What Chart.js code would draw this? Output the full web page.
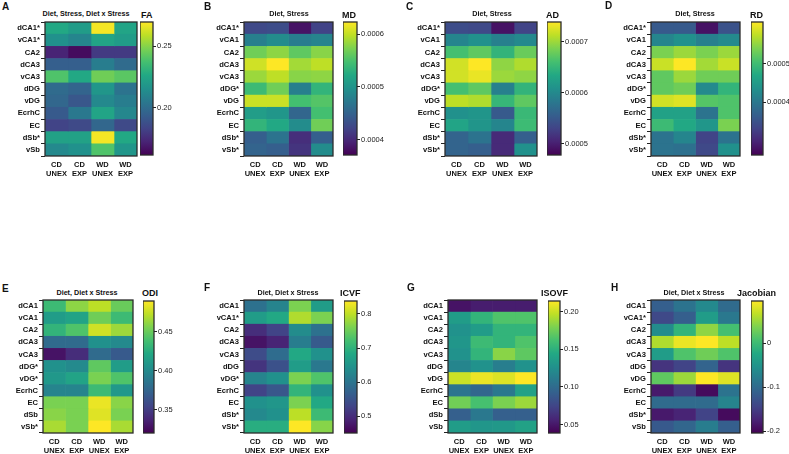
<!DOCTYPE html>
<html><head><meta charset="utf-8">
<script src="https://cdn.jsdelivr.net/npm/chart.js@4.4.1/dist/chart.umd.min.js"></script>
<style>
html,body{margin:0;padding:0;background:#fff;}
body{width:789px;height:454px;position:relative;overflow:hidden;font-family:'Liberation Sans',Arial,sans-serif;color:#111;}
.letter{position:absolute;font-weight:bold;font-size:10px;line-height:12px;}
.title{position:absolute;font-weight:bold;font-size:7.2px;line-height:10px;text-align:center;white-space:nowrap;}
.unit{position:absolute;font-weight:bold;font-size:9px;line-height:12px;white-space:nowrap;}
canvas{position:absolute;}
</style></head><body>
<script>
// ---------- DATA ----------
const columns = [['CD','UNEX'],['CD','EXP'],['WD','UNEX'],['WD','EXP']];

const rowsA = ['dCA1*','vCA1*','CA2','dCA3','vCA3','dDG','vDG','EcrhC','EC','dSb*','vSb'];
const rowsB = ['dCA1*','vCA1','CA2','dCA3','vCA3','dDG*','vDG','EcrhC','EC','dSb*','vSb*'];
const rowsC = ['dCA1*','vCA1','CA2','dCA3','vCA3','dDG*','vDG','EcrhC','EC','dSb*','vSb*'];
const rowsD = ['dCA1*','vCA1','CA2','dCA3','vCA3','dDG*','vDG','EcrhC','EC','dSb*','vSb*'];
const rowsE = ['dCA1','vCA1','CA2','dCA3','vCA3','dDG*','vDG*','EcrhC','EC','dSb','vSb*'];
const rowsF = ['dCA1','vCA1*','CA2','dCA3','vCA3','dDG','vDG*','EcrhC','EC','dSb*','vSb*'];
const rowsG = ['dCA1','vCA1','CA2','dCA3','vCA3','dDG','vDG','EcrhC','EC','dSb','vSb'];
const rowsH = ['dCA1','vCA1*','CA2','dCA3','vCA3','dDG','vDG','EcrhC','EC','dSb*','vSb'];

const faValues = [
 [0.2265,0.2211,0.2680,0.2244],[0.2158,0.2104,0.2244,0.2211],[0.1728,0.1652,0.1803,0.1803],
 [0.1943,0.1943,0.2072,0.1996],[0.2394,0.2265,0.2459,0.2416],[0.1996,0.1964,0.2179,0.2029],
 [0.1975,0.1910,0.2125,0.2072],[0.1921,0.2050,0.2244,0.2115],[0.1835,0.1857,0.1975,0.1857],
 [0.2233,0.2233,0.2680,0.2265],[0.2125,0.2158,0.2394,0.2179]];
const mdValues = [
 [0.000426,0.000429,0.000384,0.000421],[0.000479,0.000492,0.000477,0.000484],[0.000568,0.000580,0.000560,0.000578],
 [0.000605,0.000623,0.000588,0.000598],[0.000585,0.000598,0.000578,0.000580],[0.000542,0.000568,0.000479,0.000535],
 [0.000603,0.000603,0.000547,0.000555],[0.000510,0.000502,0.000454,0.000547],[0.000535,0.000522,0.000492,0.000568],
 [0.000447,0.000467,0.000404,0.000447],[0.000452,0.000447,0.000409,0.000492]];
const adValues = [
 [0.000538,0.000535,0.000491,0.000530],[0.000595,0.000608,0.000590,0.000600],[0.000660,0.000673,0.000647,0.000678],
 [0.000720,0.000738,0.000694,0.000707],[0.000720,0.000730,0.000699,0.000694],[0.000660,0.000673,0.000590,0.000647],
 [0.000712,0.000707,0.000650,0.000673],[0.000608,0.000613,0.000551,0.000652],[0.000629,0.000613,0.000595,0.000655],
 [0.000561,0.000577,0.000509,0.000556],[0.000561,0.000556,0.000509,0.000608]];
const rdValues = [
 [0.000360,0.000360,0.000280,0.000350],[0.000419,0.000436,0.000412,0.000426],[0.000540,0.000557,0.000540,0.000557],
 [0.000581,0.000609,0.000561,0.000581],[0.000523,0.000557,0.000533,0.000533],[0.000523,0.000533,0.000426,0.000488],
 [0.000585,0.000592,0.000516,0.000512],[0.000460,0.000460,0.000394,0.000512],[0.000498,0.000471,0.000443,0.000540],
 [0.000394,0.000419,0.000332,0.000394],[0.000394,0.000391,0.000339,0.000436]];
const odiValues = [
 [0.435,0.460,0.472,0.450],[0.413,0.418,0.452,0.435],[0.430,0.442,0.477,0.464],
 [0.379,0.379,0.405,0.400],[0.329,0.342,0.379,0.368],[0.405,0.400,0.447,0.413],
 [0.410,0.418,0.455,0.442],[0.396,0.396,0.435,0.410],[0.455,0.455,0.484,0.459],
 [0.459,0.455,0.481,0.455],[0.467,0.455,0.489,0.467]];
const icvfValues = [
 [0.595,0.625,0.761,0.664],[0.664,0.683,0.792,0.761],[0.502,0.529,0.637,0.595],
 [0.471,0.490,0.614,0.560],[0.540,0.587,0.683,0.645],[0.510,0.548,0.664,0.606],
 [0.625,0.645,0.761,0.730],[0.529,0.556,0.703,0.645],[0.645,0.653,0.761,0.683],
 [0.633,0.645,0.799,0.714],[0.691,0.691,0.838,0.768]];
const isovfValues = [
 [0.048,0.053,0.053,0.053],[0.135,0.153,0.165,0.165],[0.127,0.135,0.153,0.153],
 [0.130,0.158,0.153,0.165],[0.127,0.153,0.183,0.170],[0.118,0.127,0.113,0.127],
 [0.200,0.209,0.205,0.214],[0.106,0.097,0.109,0.139],[0.176,0.162,0.179,0.188],
 [0.092,0.109,0.092,0.092],[0.135,0.130,0.132,0.139]];
const jacValues = [
 [-0.114,-0.090,-0.063,-0.099],[-0.138,-0.114,-0.039,-0.084],[-0.060,-0.009,0.045,0.006],
 [0.060,0.087,0.096,0.066],[-0.039,0.012,0.030,0.012],[-0.159,-0.144,-0.108,-0.159],
 [0.021,0.051,0.096,0.081],[-0.183,-0.153,-0.195,-0.090],[-0.099,-0.099,-0.099,-0.069],
 [-0.183,-0.174,-0.144,-0.195],[-0.120,-0.105,-0.078,-0.114]];

const faRange = [0.162, 0.2695],  faTicks = [0.20, 0.25],  faTickLabels = ['0.20','0.25'];
const mdRange = [0.000371, 0.000623], mdTicks = [0.0004,0.0005,0.0006], mdTickLabels = ['0.0004','0.0005','0.0006'];
const adRange = [0.000478, 0.000738], adTicks = [0.0005,0.0006,0.0007], adTickLabels = ['0.0005','0.0006','0.0007'];
const rdRange = [0.000263, 0.000609], rdTicks = [0.0004,0.0005], rdTickLabels = ['0.0004','0.0005'];
const odiRange = [0.3205, 0.489], odiTicks = [0.35,0.40,0.45], odiTickLabels = ['0.35','0.40','0.45'];
const icvfRange = [0.4515, 0.838], icvfTicks = [0.5,0.6,0.7,0.8], icvfTickLabels = ['0.5','0.6','0.7','0.8'];
const isovfRange = [0.039, 0.214], isovfTicks = [0.05,0.10,0.15,0.20], isovfTickLabels = ['0.05','0.10','0.15','0.20'];
const jacRange = [-0.2036, 0.0957], jacTicks = [-0.2,-0.1,0], jacTickLabels = ['-0.2','-0.1','0'];

const panelLetters = ['A','B','C','D','E','F','G','H'];
const panelTitles = ['Diet, Stress, Diet x Stress','Diet, Stress','Diet, Stress','Diet, Stress',
  'Diet, Diet x Stress','Diet, Diet x Stress','','Diet, Diet x Stress'];
const panelUnits = ['FA','MD','AD','RD','ODI','ICVF','ISOVF','Jacobian'];

// ---------- LAYOUT ----------
const FONT = "'Liberation Sans', Arial, sans-serif";
const VIR = ['#440154','#482475','#414487','#355f8d','#2a788e','#21918c','#22a884','#44bf70','#7ad151','#bddf26','#fde725'];
function hex(h){return [parseInt(h.substr(1,2),16),parseInt(h.substr(3,2),16),parseInt(h.substr(5,2),16)];}
function viridis(t){
  t=Math.max(0,Math.min(1,t)); const s=t*(VIR.length-1); const i=Math.min(Math.floor(s),VIR.length-2); const f=s-i;
  const a=hex(VIR[i]), b=hex(VIR[i+1]);
  return 'rgb('+a.map((v,k)=>Math.round(v+(b[k]-v)*f)).join(',')+')';
}
const frame = {id:'frame', afterDatasetsDraw(chart){
  const a=chart.chartArea, c=chart.ctx; c.save(); c.strokeStyle='#2b2b2b'; c.lineWidth=1.3;
  c.strokeRect(a.left, a.top, a.right-a.left, a.bottom-a.top); c.restore();}};

const panels = [
 {rows:rowsA, values:faValues, range:faRange, ticks:faTicks, tl:faTickLabels, L:45,R:137,T:22,B:156, cbL:140,cbR:153,cbT:22,cbB:155, lx:2,ly:1, tx:86, ty:9, ux:141,uy:9},
 {rows:rowsB, values:mdValues, range:mdRange, ticks:mdTicks, tl:mdTickLabels, L:244,R:333,T:22,B:156, cbL:343,cbR:357,cbT:22,cbB:155, lx:204,ly:1, tx:289, ty:9, ux:342,uy:9},
 {rows:rowsC, values:adValues, range:adRange, ticks:adTicks, tl:adTickLabels, L:445,R:537,T:22,B:156, cbL:547,cbR:561,cbT:22,cbB:155, lx:406,ly:1, tx:492, ty:9, ux:546,uy:9},
 {rows:rowsD, values:rdValues, range:rdRange, ticks:rdTicks, tl:rdTickLabels, L:651,R:740,T:22,B:156, cbL:751,cbR:763,cbT:22,cbB:155, lx:605,ly:0, tx:695, ty:9, ux:750,uy:9},
 {rows:rowsE, values:odiValues, range:odiRange, ticks:odiTicks, tl:odiTickLabels, L:43,R:133,T:300,B:433, cbL:143,cbR:154,cbT:301,cbB:433, lx:2,ly:283, tx:87, ty:288, ux:142,uy:287},
 {rows:rowsF, values:icvfValues, range:icvfRange, ticks:icvfTicks, tl:icvfTickLabels, L:244,R:333,T:300,B:433, cbL:344,cbR:357,cbT:301,cbB:433, lx:204,ly:282, tx:288, ty:288, ux:340,uy:287},
 {rows:rowsG, values:isovfValues, range:isovfRange, ticks:isovfTicks, tl:isovfTickLabels, L:448,R:537,T:300,B:433, cbL:548,cbR:560,cbT:301,cbB:433, lx:407,ly:282, tx:492, ty:288, ux:541,uy:287},
 {rows:rowsH, values:jacValues, range:jacRange, ticks:jacTicks, tl:jacTickLabels, L:651,R:740,T:300,B:433, cbL:751,cbR:763,cbT:301,cbB:433, lx:611,ly:282, tx:694, ty:288, ux:737,uy:287}
];

function addText(cls, txt, x, y, w){
  const d=document.createElement('div'); d.className=cls; d.textContent=txt;
  d.style.left=x+'px'; d.style.top=y+'px'; if(w) d.style.width=w+'px'; document.body.appendChild(d);
}
function mkCanvas(x,y,w,h){
  const c=document.createElement('canvas'); c.width=w; c.height=h;
  c.style.left=x+'px'; c.style.top=y+'px'; c.style.width=w+'px'; c.style.height=h+'px';
  document.body.appendChild(c); return c;
}

function heatmap(p){
  const padT=10, padR=14, yW=50, xH=24;
  const cv = mkCanvas(p.L-yW, p.T-padT, yW+(p.R-p.L)+padR, padT+(p.B-p.T)+xH);
  const [mn,mx]=p.range;
  const datasets = columns.map((c,j)=>({
    data: p.rows.map((r,i)=>({y:r, x:[j,j+1], v:p.values[i][j]})),
    backgroundColor: p.rows.map((r,i)=>viridis((p.values[i][j]-mn)/(mx-mn))),
    borderWidth:0, barPercentage:1, categoryPercentage:1, grouped:false
  }));
  new Chart(cv,{type:'bar', data:{labels:p.rows, datasets}, options:{
    indexAxis:'y', responsive:false, animation:false,
    layout:{padding:{top:padT,right:padR,left:0,bottom:0}},
    plugins:{legend:{display:false}, tooltip:{enabled:false}, title:{display:false}},
    scales:{
      x:{type:'linear', min:0, max:4,
         afterBuildTicks:s=>{s.ticks=[0.5,1.5,2.5,3.5].map(v=>({value:v}));},
         afterFit:s=>{s.height=xH;},
         grid:{display:false, drawTicks:false}, border:{display:false},
         ticks:{callback:(v,i)=>columns[i], autoSkip:false, maxRotation:0, padding:5, color:'#111',
                font:{family:FONT, size:7.5, weight:'bold', lineHeight:1.15}}},
      y:{type:'category', afterFit:s=>{s.width=yW;},
         grid:{drawOnChartArea:false, drawTicks:true, tickLength:4, color:'#222', lineWidth:1},
         border:{display:false},
         ticks:{autoSkip:false, padding:1, color:'#111', font:{family:FONT, size:7.6, weight:'bold'}}}
    }}, plugins:[frame]});
}

function colorbar(p){
  const padT=10, padB=10, axW=38;
  const cv = mkCanvas(p.cbL, p.cbT-padT, (p.cbR-p.cbL)+axW, padT+(p.cbB-p.cbT)+padB);
  const [mn,mx]=p.range;
  new Chart(cv,{type:'bar', data:{labels:[''], datasets:[{data:[[mn,mx]], borderWidth:0,
      barPercentage:1, categoryPercentage:1,
      backgroundColor:(ctx)=>{
        const ch=ctx.chart; if(!ch.chartArea) return VIR[5];
        const ys=ch.scales.y; const g=ch.ctx.createLinearGradient(0, ys.getPixelForValue(mn), 0, ys.getPixelForValue(mx));
        VIR.forEach((c,k)=>g.addColorStop(k/(VIR.length-1), c)); return g;}}]},
    options:{responsive:false, animation:false,
      layout:{padding:{top:padT,bottom:padB,left:0,right:0}},
      plugins:{legend:{display:false}, tooltip:{enabled:false}},
      scales:{
        x:{display:false},
        y:{position:'right', min:mn, max:mx, afterFit:s=>{s.width=axW;},
           afterBuildTicks:s=>{s.ticks=p.ticks.map(v=>({value:v}));},
           grid:{drawOnChartArea:false, drawTicks:true, tickLength:3, color:'#222'},
           border:{display:false},
           ticks:{callback:(v,i)=>p.tl[i], padding:1, color:'#222', font:{family:FONT, size:7.5}}}
      }}, plugins:[frame]});
}

panels.forEach((p,k)=>{
  addText('letter', panelLetters[k], p.lx, p.ly);
  if (panelTitles[k]) addText('title', panelTitles[k], p.tx-100, p.ty, 200);
  addText('unit', panelUnits[k], p.ux, p.uy);
  heatmap(p);
  colorbar(p);
});
</script>
</body></html>
